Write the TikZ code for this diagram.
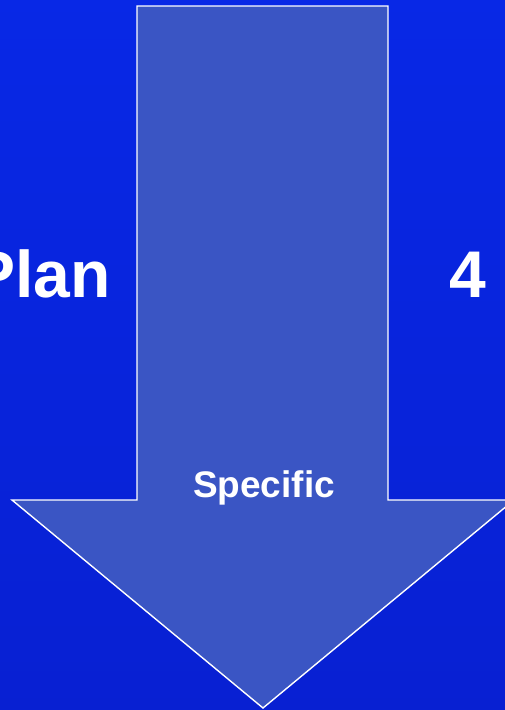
\documentclass[tikz,border=0pt]{standalone}
\usepackage{fontspec}
\setmainfont{Liberation Sans}
\usepackage{tikz}
\usetikzlibrary{shapes,arrows,positioning}
\definecolor{bgtop}{HTML}{0828E6}
\definecolor{bgmid}{HTML}{0A2EFF}
\definecolor{bgbot}{HTML}{0820D2}
\definecolor{arrowfill}{HTML}{3A55C4}
\tikzstyle{bigtext} = [text=white, font=\bfseries\fontsize{66}{66}\selectfont, inner sep=0pt]
\tikzstyle{smalltext} = [text=white, font=\bfseries\fontsize{37}{37}\selectfont, inner sep=0pt]
\tikzstyle{bigarrow} = [draw=white, line width=1.4pt, fill=arrowfill, line join=miter]

\begin{document}
\begin{tikzpicture}[x=1pt, y=-1pt]
				\useasboundingbox (0,0) rectangle (504,710);
				\shade [top color=bgtop, middle color=bgmid, bottom color=bgbot] (-6,-6) rectangle (512,716);

				\path [bigarrow] (137,6) -- (388,6) -- (388,500) -- (514,500) -- (263,708)
					-- (12,500) -- (137,500) -- cycle;

				\node [bigtext, anchor=base east] (plan) at (111,297) {Plan};
				\node [bigtext, anchor=base west] (four) at (449,297) {4};
				\node [smalltext, anchor=base] (specific) at (264,497) {Specific};
			\end{tikzpicture}
\end{document}
